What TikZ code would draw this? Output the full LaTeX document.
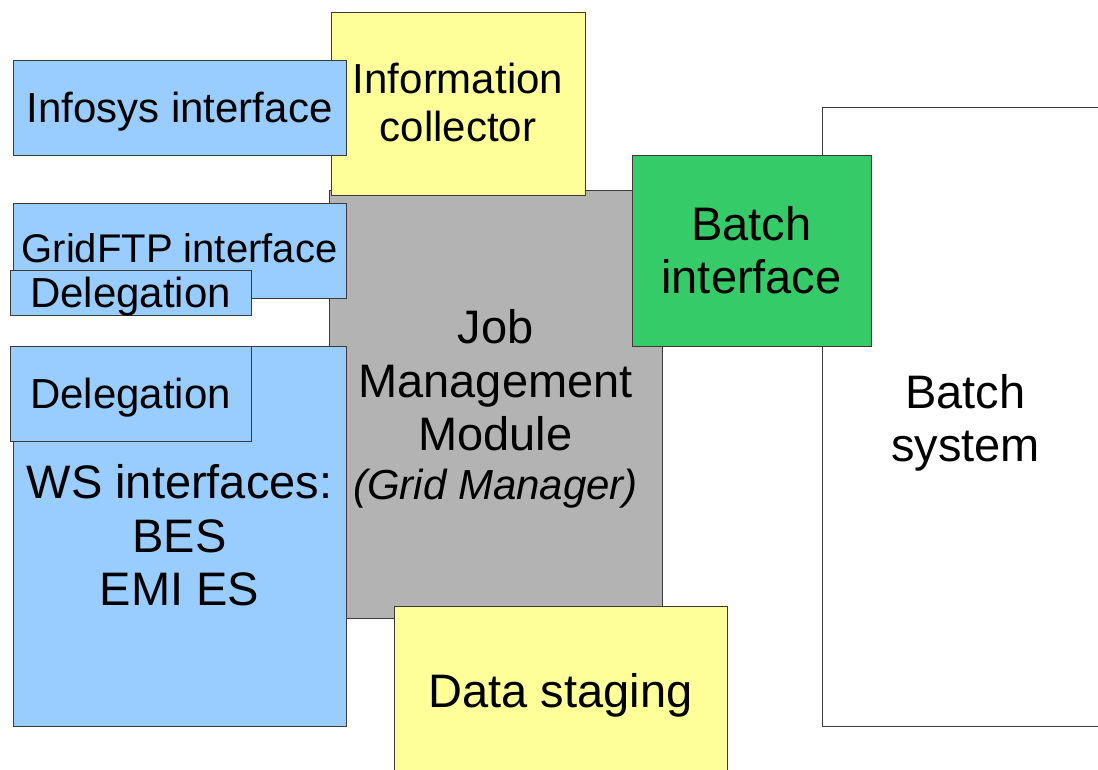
\documentclass[tikz,border=0pt]{standalone}
\usepackage{fontspec}
\setmainfont{Liberation Sans}
\definecolor{ifblue}{HTML}{99CCFF}
\definecolor{ifyellow}{HTML}{FFFF99}
\definecolor{ifgray}{HTML}{B3B3B3}
\definecolor{ifgreen}{HTML}{35CB69}
\definecolor{edge}{HTML}{3A3A3A}
\tikzset{
  blk/.style={draw=edge, line width=0.9pt, inner sep=0pt, outer sep=0pt, rectangle},
  lbl/.style={anchor=base, inner sep=0pt, outer sep=0pt, text=black},
  big/.style={font=\fontsize{47}{54}\selectfont},
  mid/.style={font=\fontsize{42}{48}\selectfont},
  sml/.style={font=\fontsize{40}{46}\selectfont},
}
\begin{document}
\begin{tikzpicture}[x=1pt, y=-1pt]
\useasboundingbox (0,0) rectangle (1098,769);
\clip (0,0) rectangle (1098,769);
\fill[white] (0,0) rectangle (1098,769);

% boxes, back to front
\node[blk, fill=white,    minimum width=288pt, minimum height=619pt] (batchsys) at (966,416.5) {};
\node[blk, fill=ifgray,   minimum width=333pt, minimum height=428pt] (jmm)      at (495.5,404) {};
\node[blk, fill=ifyellow, minimum width=254pt, minimum height=183pt] (infocol)  at (458,103.5) {};
\node[blk, fill=ifblue,   minimum width=333pt, minimum height=95pt]  (infosys)  at (179.5,107.5) {};
\node[blk, fill=ifblue,   minimum width=333pt, minimum height=95pt]  (gridftp)  at (179.5,250.5) {};
\node[blk, fill=ifblue,   minimum width=241pt, minimum height=45pt]  (delegA)   at (130.5,292.5) {};
\node[blk, fill=ifblue,   minimum width=333pt, minimum height=380pt] (ws)       at (179.5,536) {};
\node[blk, fill=ifblue,   minimum width=241pt, minimum height=95pt]  (delegB)   at (130.5,393.5) {};
\node[blk, fill=ifgreen,  minimum width=239pt, minimum height=191pt] (batchif)  at (751.5,250.5) {};
\node[blk, fill=ifyellow, minimum width=333pt, minimum height=184pt] (staging)  at (560.5,698) {};

% labels
\node[lbl, mid] (tinfosys) at (179.5,122) {Infosys interface};
\node[lbl, mid] (tinfo1)   at (458,93)    {Information};
\node[lbl, mid] (tinfo2)   at (458,141)   {collector};
\node[lbl, sml] (tgrid)    at (179.5,262) {GridFTP interface};
\node[lbl, mid] (tdelA)    at (130.5,307) {Delegation};
\node[lbl, mid] (tdelB)    at (130.5,408) {Delegation};
\node[lbl, big] (tws1)     at (179.5,498) {WS interfaces:};
\node[lbl, big] (tws2)     at (179.5,552) {BES};
\node[lbl, big] (tws3)     at (179.5,605) {EMI ES};
\node[lbl, big] (tjmm1)    at (495.5,343) {Job};
\node[lbl, big] (tjmm2)    at (495.5,397) {Management};
\node[lbl, big] (tjmm3)    at (495.5,450) {Module};
\node[lbl, mid, font=\fontsize{42}{48}\selectfont\itshape] (tjmm4) at (495.5,499) {(Grid Manager)};
\node[lbl, big] (tbif1)    at (751.5,240) {Batch};
\node[lbl, big] (tbif2)    at (751.5,293) {interface};
\node[lbl, big] (tbs1)     at (965.5,408) {Batch};
\node[lbl, big] (tbs2)     at (965.5,461) {system};
\node[lbl, big] (tstage)   at (560.5,707) {Data staging};
\end{tikzpicture}
\end{document}
